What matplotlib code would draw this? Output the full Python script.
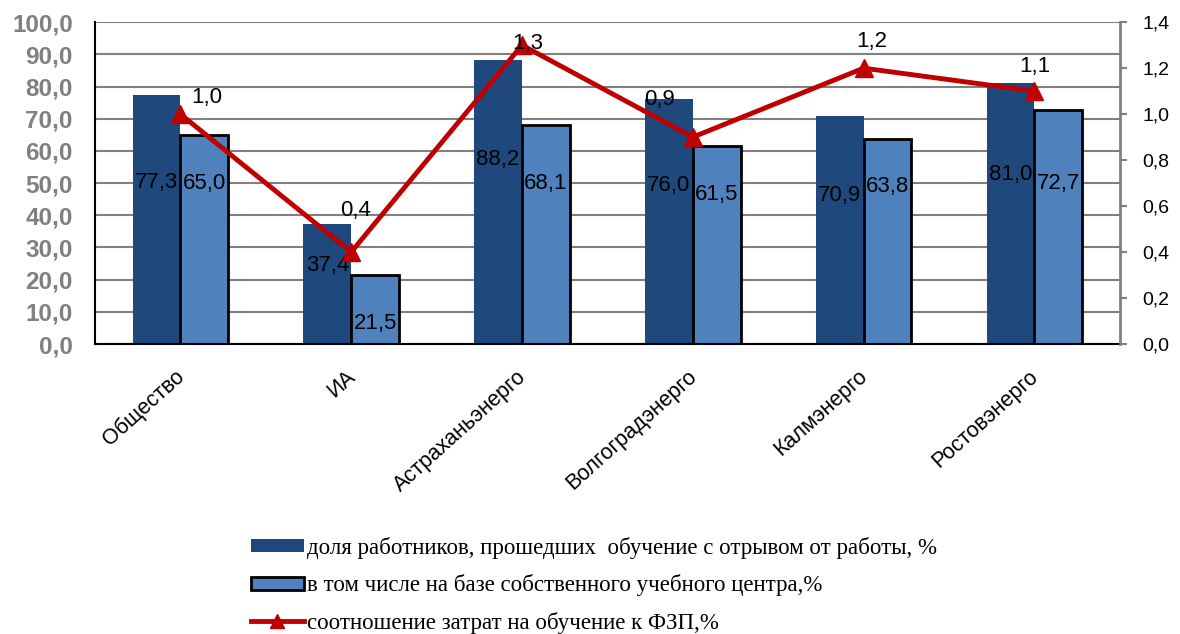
import matplotlib.pyplot as plt
import matplotlib.transforms as mtransforms
import numpy as np
from matplotlib.lines import Line2D
from matplotlib.patches import Patch

plt.rcParams['font.family'] = 'Liberation Sans'

# Data
categories = ['Общество', 'ИА', 'Астраханьэнерго', 'Волгоградэнерго', 'Калмэнерго', 'Ростовэнерго']
share_trained = [77.3, 37.4, 88.2, 76.0, 70.9, 81.0]
share_own_center = [65.0, 21.5, 68.1, 61.5, 63.8, 72.7]
cost_ratio = [1.0, 0.4, 1.3, 0.9, 1.2, 1.1]

labels = ['доля работников, прошедших  обучение с отрывом от работы, %',
          'в том числе на базе собственного учебного центра,%',
          'соотношение затрат на обучение к ФЗП,%']

c_dark = '#1F497D'
c_light = '#4F81BD'
c_red = '#C00000'


def fmt(v):
    return f'{v:.1f}'.replace('.', ',')


fig = plt.figure(figsize=(11.8, 6.34), dpi=100)
ax = fig.add_axes([0.0805, 0.4574, 0.8685, 0.5076])
ax2 = ax.twinx()

x = np.arange(len(categories))
w = 0.28
ax.bar(x - w / 2, share_trained, w, color=c_dark, zorder=2)
ax.bar(x + w / 2, share_own_center, w, color=c_light, edgecolor='black', linewidth=2, zorder=2)

for xi, v in zip(x, share_trained):
    ax.text(xi - w / 2, v * 0.65, fmt(v), ha='center', va='center', fontsize=16, zorder=3)
for xi, v in zip(x, share_own_center):
    ax.text(xi + w / 2, min(v - 15, 50), fmt(v), ha='center', va='center', fontsize=16, zorder=3)

ax.set_xlim(-0.5, len(categories) - 0.5)
ax.set_ylim(0, 100)
ax.set_yticks(np.arange(0, 101, 10))
ax.set_yticklabels([fmt(t) for t in np.arange(0, 101, 10)], fontsize=17.5, fontweight='bold', color='#808080')
ax.yaxis.grid(True, color='#808080', linewidth=1.5, zorder=0)
ax.set_axisbelow(True)
ax.tick_params(axis='y', length=0, pad=16)
ax.set_xticks(x)
ax.set_xticklabels(categories, rotation=42, ha='right', va='top', rotation_mode='anchor', fontsize=15.5)
ax.tick_params(axis='x', length=0, pad=16)
shift = mtransforms.ScaledTranslation(-6 / 100, 0, fig.dpi_scale_trans)
for lbl in ax.get_xticklabels():
    lbl.set_transform(lbl.get_transform() + shift)
for s in ['left', 'bottom']:
    ax.spines[s].set_linewidth(1.5)
ax.spines['top'].set_visible(False)
ax.spines['right'].set_visible(False)

ax2.plot(x, cost_ratio, color=c_red, linewidth=3.5, marker='^', markersize=13, zorder=5)
ax2.set_ylim(0, 1.4)
ax2.set_yticks(np.arange(0, 1.41, 0.2))
ax2.set_yticklabels([fmt(t) for t in np.arange(0, 1.41, 0.2)], fontsize=14)
ax2.tick_params(axis='y', direction='out', length=5, color='#808080', width=1.5, pad=11)
ax2.spines['right'].set_color('#808080')
ax2.spines['right'].set_linewidth(2)
for s in ['top', 'left', 'bottom']:
    ax2.spines[s].set_visible(False)

# label offsets (points)
offsets = [(19, 12), (3, 30), (4, 1), (-24, 27), (6, 19), (0, 18)]
for xi, v, off in zip(x, cost_ratio, offsets):
    ax2.annotate(fmt(v), (xi, v), xytext=off, textcoords='offset points', ha='center', va='center',
                 fontsize=16, zorder=6)

handles = [Patch(facecolor=c_dark, edgecolor='none'),
           Patch(facecolor=c_light, edgecolor='black', linewidth=2),
           Line2D([0], [0], color=c_red, linewidth=3.5, marker='^', markersize=10)]
fig.legend(handles, labels, loc='upper left', bbox_to_anchor=(0.205, 0.168), frameon=False,
           prop={'family': 'Liberation Serif', 'size': 16.5}, labelspacing=0.68, handlelength=2.3,
           handleheight=0.5, handletextpad=0.15, borderaxespad=0)

plt.savefig('out.png', dpi=100)
